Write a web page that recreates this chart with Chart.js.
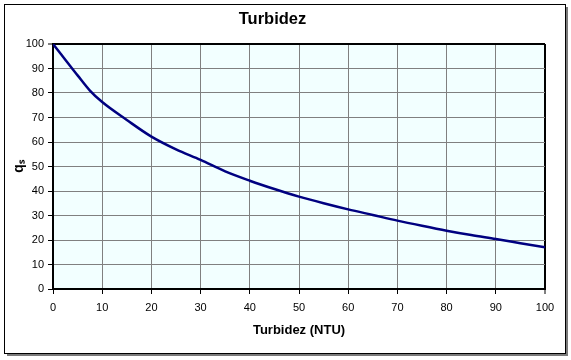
<!DOCTYPE html>
<html>
<head>
<meta charset="utf-8">
<script src="https://cdn.jsdelivr.net/npm/chart.js@4"></script>
<style>
  body { margin: 0; background: #fff; }
  canvas { display: block; }
</style>
</head>
<body>
<canvas id="turbChart" width="571" height="360"></canvas>
<script>
// Turbidity (NTU) vs quality sub-index q_s
const turbidity = [0, 2.5, 5, 7.5, 10, 15, 20, 25, 30, 35, 40, 45, 50, 55, 60, 65, 70, 75, 80, 85, 90, 95, 100]
const qsValues = [100, 93.6, 87.2, 81, 76.3, 69, 62.2, 57, 52.7, 48, 44.2, 40.8, 37.7, 35, 32.5, 30.2, 27.9, 25.8, 23.8, 22, 20.4, 18.7, 17]
const axisTicks = [0, 10, 20, 30, 40, 50, 60, 70, 80, 90, 100]

const FONT = "'Liberation Sans', Arial, sans-serif"

// frame, shadow and plot background like the spreadsheet chart
const frame = {
  id: "frame",
  beforeDraw(chart) {
    const { ctx, chartArea } = chart
    ctx.save()
    ctx.fillStyle = "#fff"
    ctx.fillRect(0, 0, chart.width, chart.height)
    ctx.fillStyle = "#7a7a7a"
    ctx.fillRect(7, 7, 561, 349)
    ctx.fillStyle = "#fff"
    ctx.fillRect(4, 4, 561, 349)
    ctx.strokeStyle = "#000"
    ctx.lineWidth = 1
    ctx.strokeRect(4.5, 4.5, 561, 349)
    ctx.fillStyle = "#f2ffff"
    ctx.fillRect(chartArea.left, chartArea.top, chartArea.right - chartArea.left, chartArea.bottom - chartArea.top)
    ctx.restore()
  },
}

const gridColor = (c) => (c.tick && c.tick.value === 100 ? "#000" : "#808080")
const gridWidth = (c) => (c.tick && c.tick.value === 100 ? 2 : 1)

new Chart(document.getElementById("turbChart"), {
  type: "line",
  data: {
    datasets: [
      {
        data: turbidity.map((t, i) => ({ x: t, y: qsValues[i] })),
        borderColor: "#000080",
        borderWidth: 2.5,
        pointRadius: 0,
        cubicInterpolationMode: "monotone",
        fill: false,
      },
    ],
  },
  options: {
    responsive: false,
    animation: false,
    layout: { padding: { top: 4, right: 26, bottom: 0, left: 0 } },
    plugins: {
      legend: { display: false },
      tooltip: { enabled: false },
      title: {
        display: true,
        text: "Turbidez",
        color: "#000",
        font: { family: FONT, size: 16.5, weight: "bold" },
        padding: { top: 6, bottom: 14.2 },
      },
    },
    scales: {
      x: {
        type: "linear",
        min: 0,
        max: 100,
        afterBuildTicks: (s) => { s.ticks = axisTicks.map((v) => ({ value: v })) },
        afterFit: (s) => { s.height = 71 },
        ticks: { color: "#000", padding: 7, font: { family: FONT, size: 11 } },
        grid: { color: gridColor, lineWidth: gridWidth, tickColor: "#000", tickLength: 5, tickWidth: 1 },
        border: { color: "#000", width: 2 },
        title: {
          display: true,
          text: "Turbidez (NTU)",
          color: "#000",
          font: { family: FONT, size: 13, weight: "bold" },
          padding: { top: 0, bottom: 22 },
        },
      },
      y: {
        min: 0,
        max: 100,
        afterBuildTicks: (s) => { s.ticks = axisTicks.map((v) => ({ value: v })) },
        afterFit: (s) => { s.width = 53 },
        ticks: { color: "#000", padding: 4, font: { family: FONT, size: 11 } },
        grid: { color: gridColor, lineWidth: gridWidth, tickColor: "#000", tickLength: 5, tickWidth: 1 },
        border: { color: "#000", width: 2 },
        title: {
          display: true,
          text: "qₛ",
          color: "#000",
          font: { family: FONT, size: 14, weight: "bold" },
          padding: { top: 11, bottom: 0 },
        },
      },
    },
  },
  plugins: [frame],
})
</script>
</body>
</html>
